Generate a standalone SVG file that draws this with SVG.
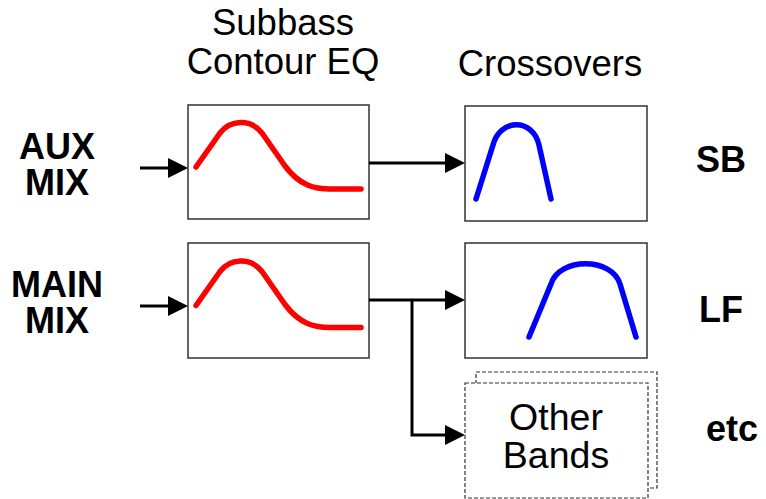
<svg xmlns="http://www.w3.org/2000/svg" width="766" height="499" viewBox="0 0 766 499">
<style>
.box{fill:#fff;stroke:#333;stroke-width:1.5}
.dash{fill:#fff;stroke:#333;stroke-width:1.2;stroke-dasharray:4 2}
.hdr{font-family:"Liberation Sans",Arial,sans-serif;font-size:36.5px;fill:#000;text-anchor:middle}
.ob{font-family:"Liberation Sans",Arial,sans-serif;font-size:37.5px;fill:#000;text-anchor:middle}
.lbl{font-family:"Liberation Sans",Arial,sans-serif;font-size:36px;font-weight:bold;fill:#000;text-anchor:middle}
.rl{font-family:"Liberation Sans",Arial,sans-serif;font-size:36px;font-weight:bold;fill:#000;text-anchor:middle}
.red{fill:none;stroke:#f00;stroke-width:5.5;stroke-linecap:round;stroke-linejoin:round}
.blue{fill:none;stroke:#00f;stroke-width:5.5;stroke-linecap:round;stroke-linejoin:round}
.wire{fill:none;stroke:#000;stroke-width:3}
.head{fill:#000}
</style>
<rect width="766" height="499" fill="#fff"/>
<g id="headers">
<text class="hdr" x="283" y="35">Subbass</text>
<text class="hdr" x="283" y="74">Contour EQ</text>
<text class="hdr" x="550" y="76">Crossovers</text>
</g>
<g id="aux-label"><text class="lbl" x="57" y="159">AUX</text><text class="lbl" x="57" y="195">MIX</text></g>
<g id="main-label"><text class="lbl" x="57" y="297">MAIN</text><text class="lbl" x="57" y="333">MIX</text></g>
<g id="sb-label"><text class="rl" x="721" y="172">SB</text></g>
<g id="lf-label"><text class="rl" x="721" y="322">LF</text></g>
<g id="etc-label"><text class="rl" x="732" y="441">etc</text></g>
<g id="eq-aux">
<rect class="box" x="188" y="105" width="181" height="114"/>
<path class="red" d="M196,167 L220,133 C230,120 250,118 262,133 L285,166 C300,186 315,189 330,189 L361,189"/>
</g>
<g id="eq-main">
<rect class="box" x="188" y="243" width="181" height="115"/>
<path class="red" transform="translate(0,138.5)" d="M196,167 L220,133 C230,120 250,118 262,133 L285,166 C300,186 315,189 330,189 L361,189"/>
</g>
<g id="xo-sb">
<rect class="box" x="465" y="106" width="182" height="115"/>
<path class="blue" d="M476,199 L493,145 C500,118 533,118 539,145 L551,199"/>
</g>
<g id="xo-lf">
<rect class="box" x="465" y="243" width="182" height="115"/>
<path class="blue" d="M529,337 L551,284 C559,257 612,257 620,284 L636,337"/>
</g>
<g id="other-bands">
<rect class="dash" x="476" y="372" width="181" height="116"/>
<rect class="dash" x="465" y="383" width="183" height="115"/>
<text class="ob" x="556" y="430">Other</text>
<text class="ob" x="556" y="468">Bands</text>
</g>
<g id="connectors">
<path class="wire" d="M140,168 H170"/>
<polygon class="head" points="168,158 188,168 168,178"/>
<path class="wire" d="M140,306 H170"/>
<polygon class="head" points="168,296 188,306 168,316"/>
<path class="wire" d="M369,163 H447"/>
<polygon class="head" points="445,153 465,163 445,173"/>
<path class="wire" d="M369,300 H447"/>
<polygon class="head" points="445,290 465,300 445,310"/>
<path class="wire" d="M412,300 V435 H447"/>
<polygon class="head" points="445,425 465,435 445,445"/>
</g>
</svg>
